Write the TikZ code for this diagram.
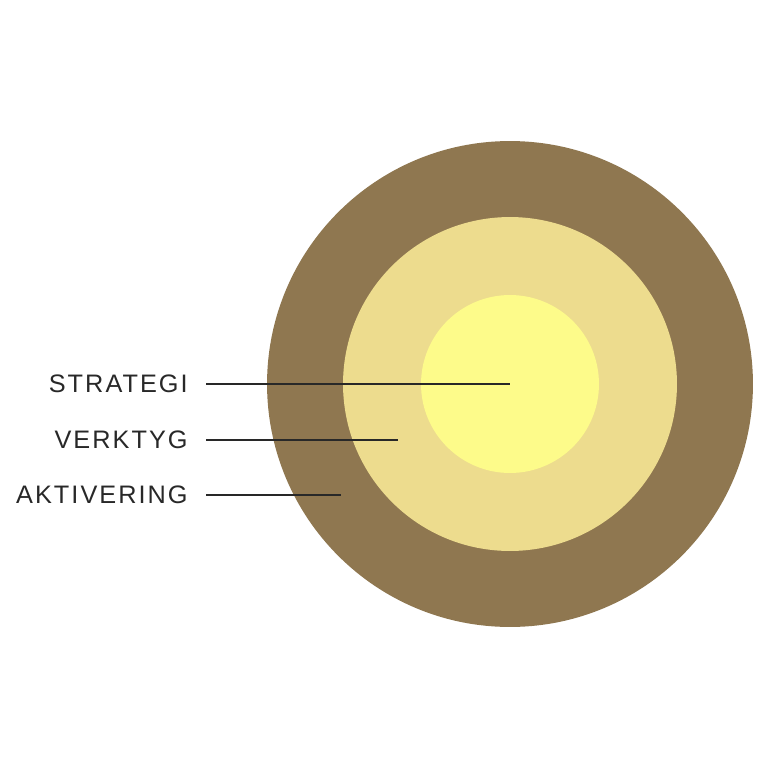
\documentclass[tikz,border=0pt]{standalone}
\usepackage{fontspec}
\setmainfont{Liberation Sans}[LetterSpace=8]
\usetikzlibrary{positioning}
\definecolor{ringOuter}{RGB}{143,119,80}
\definecolor{ringMiddle}{RGB}{237,220,142}
\definecolor{ringInner}{RGB}{253,251,138}
\definecolor{labelText}{RGB}{40,40,40}

\begin{document}
\begin{tikzpicture}[x=0.02cm, y=-0.02cm]

  % Styles for rings and labels
  \tikzset{ring/.style={circle, draw=none, inner sep=0pt},
           label/.style={anchor=east, text=labelText, font=\fontsize{14.4}{16}\selectfont, inner sep=0pt},
           pointer/.style={draw=labelText, line width=0.6pt}}

  \useasboundingbox (0,0) rectangle (768,768);

  % Rings
  \node[ring, fill=ringOuter, minimum size=9.72cm] (aktivering) at (510,384) {};
  \node[ring, fill=ringMiddle, minimum size=6.68cm] (verktyg) at (510,384) {};
  \node[ring, fill=ringInner, minimum size=3.56cm] (strategi) at (510,384) {};

  % Labels
  \node[label] (lblStrategi) at (188,384) {STRATEGI};
  \node[label] (lblVerktyg) at (188,440) {VERKTYG};
  \node[label] (lblAktivering) at (188,495) {AKTIVERING};

  % Pointer ends
  \coordinate (pStrategi) at (510,384);
  \coordinate (pVerktyg) at (398,440);
  \coordinate (pAktivering) at (341,495);

  % Pointers
  \draw[pointer] ([xshift=18*0.02cm]lblStrategi.east) -- (pStrategi);
  \draw[pointer] ([xshift=18*0.02cm]lblVerktyg.east) -- (pVerktyg);
  \draw[pointer] ([xshift=18*0.02cm]lblAktivering.east) -- (pAktivering);

\end{tikzpicture}
\end{document}
